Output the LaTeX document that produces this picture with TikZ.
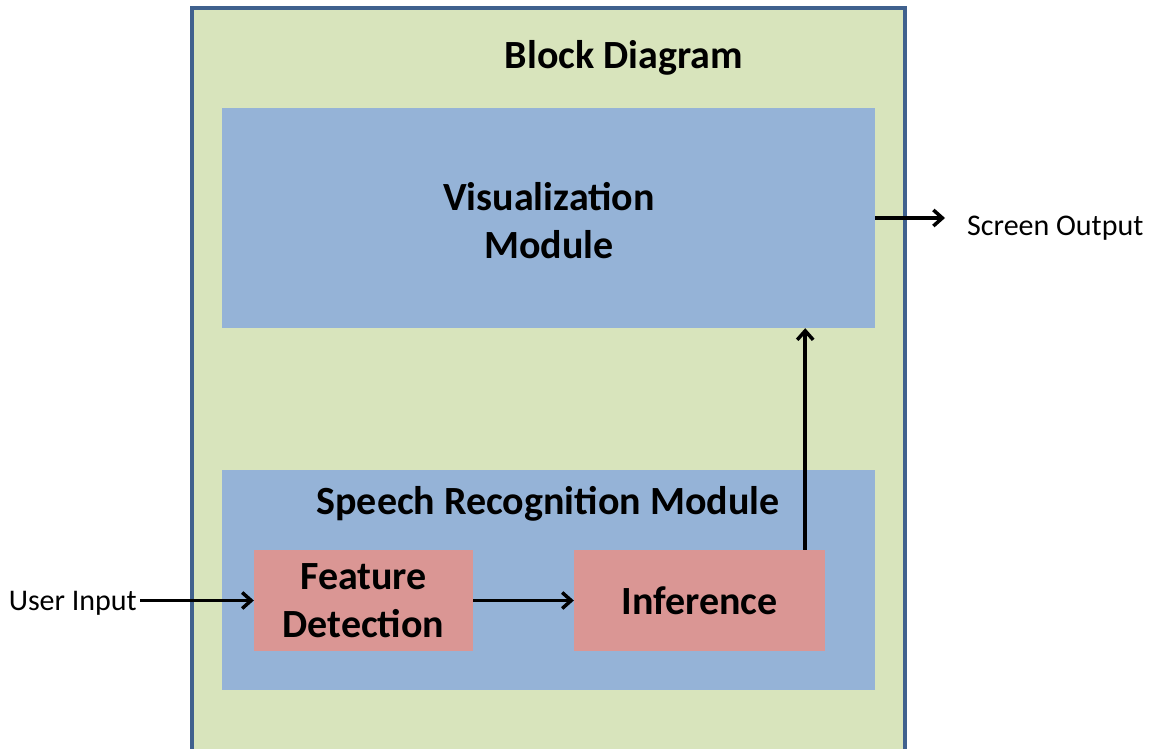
\documentclass[tikz,border=0pt]{standalone}
\usepackage{fontspec}
\setmainfont{Carlito}
\usetikzlibrary{arrows.meta}
\definecolor{outerfill}{HTML}{D8E4BC}
\definecolor{outerline}{HTML}{40618E}
\definecolor{bluefill}{HTML}{95B3D7}
\definecolor{redfill}{HTML}{DA9694}
\tikzset{
  big/.style={font=\fontsize{40pt}{48pt}\selectfont\bfseries, align=center},
  small/.style={font=\fontsize{30pt}{36pt}\selectfont, inner sep=0pt},
  bluebox/.style={fill=bluefill, draw=none, inner sep=0pt},
  redbox/.style={fill=redfill, draw=none, inner sep=0pt, big},
  arr/.style={line width=3.5pt, -{Straight Barb[length=9pt,width=16pt,line width=3.5pt]}},
}
\begin{document}
\begin{tikzpicture}[x=1pt,y=-1pt]
\useasboundingbox (0,0) rectangle (1151,749);
% outer container
\fill[outerfill] (192,8) rectangle (905,760);
\draw[outerline, line width=3.5pt] (192,760) -- (192,8) -- (905,8) -- (905,760);
\node[big, inner sep=0pt, anchor=base] (title) at (624,69) {Block Diagram};
% visualization module
\node[bluebox, minimum width=653pt, minimum height=220pt] (vis) at (548.5,218) {};
\node[big, inner sep=0pt, anchor=base] (vistxt) at (549,258) {Visualization\\Module};
% speech recognition module
\node[bluebox, minimum width=653pt, minimum height=220pt] (speech) at (548.5,580) {};
\node[big, inner sep=0pt, anchor=base] (stitle) at (548,514) {Speech Recognition Module};
\node[redbox, minimum width=219pt, minimum height=101pt] (feat) at (363.5,600.5) {Feature\\Detection};
\node[redbox, minimum width=251pt, minimum height=101pt] (inf) at (699.5,600.5) {Inference};
% external labels
\node[small, anchor=base east] (uin) at (137,610) {User Input};
\node[small, anchor=base west] (sout) at (967,235) {Screen Output};
% connectors
\draw[arr] ([xshift=3pt]uin.east |- feat.west) -- (feat.west);
\draw[arr] (feat.east) -- (inf.west);
\draw[arr] ([xshift=-20pt]inf.north east) -- ([xshift=-20pt]inf.north east |- vis.south);
\draw[arr] (vis.east) -- ([xshift=-22pt]sout.west |- vis.east);
\end{tikzpicture}
\end{document}
